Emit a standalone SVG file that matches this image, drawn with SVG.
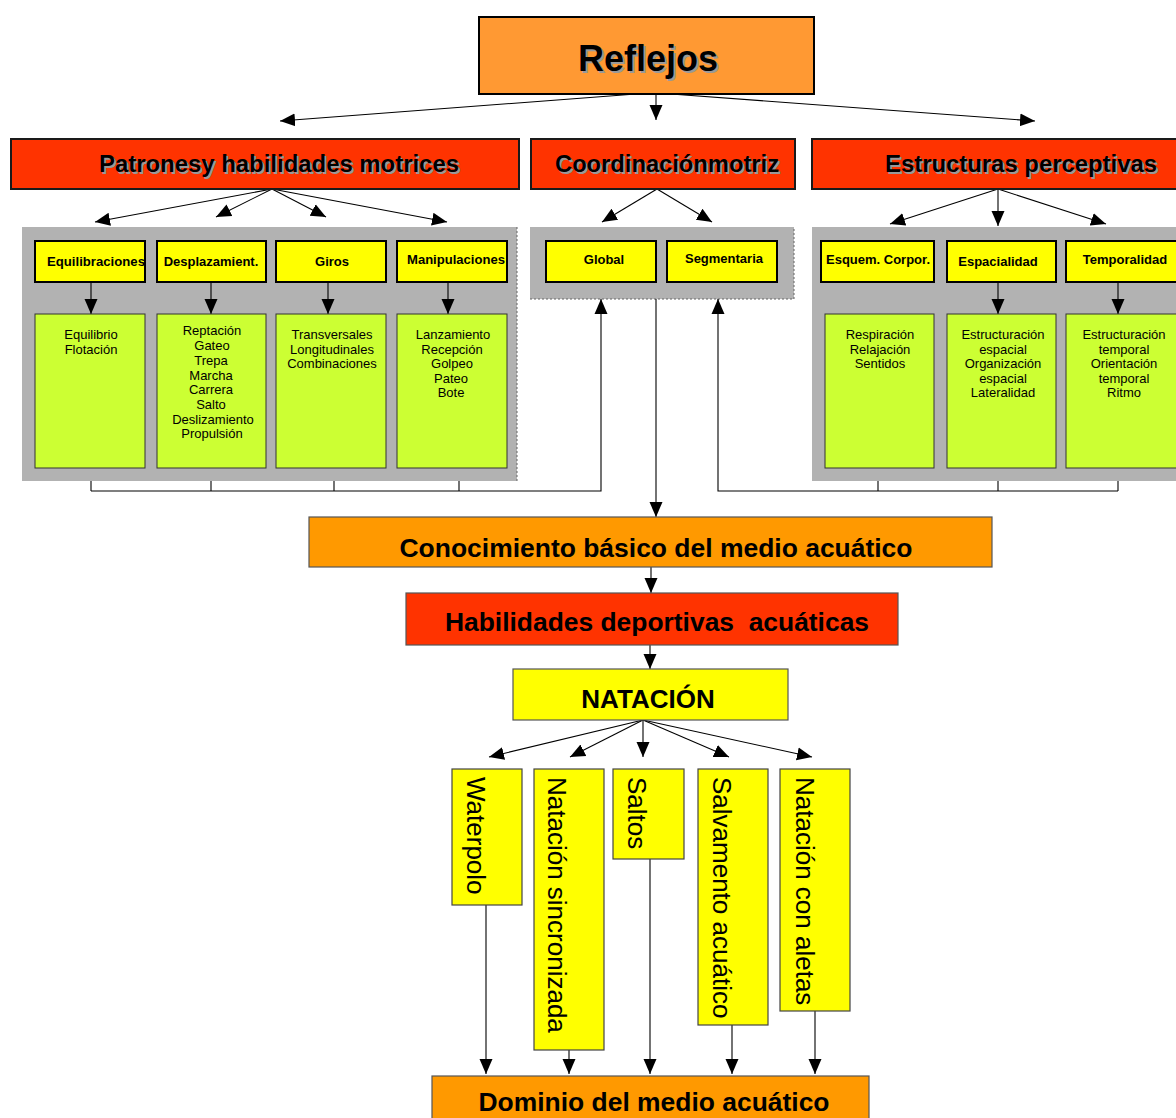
<svg xmlns="http://www.w3.org/2000/svg" width="1176" height="1118" viewBox="0 0 1176 1118">
<style>
text{font-family:"Liberation Sans",Arial,sans-serif;fill:#000}
.big{font-weight:bold;font-size:36px;text-anchor:middle}
.h2{font-weight:bold;font-size:23px;text-anchor:middle}
.sh{fill:#999999}
.hd{font-weight:bold;font-size:13px;text-anchor:middle}
.gt{font-size:13px;text-anchor:middle}
.mid{font-weight:bold;font-size:26px;text-anchor:middle}
.vt{font-size:26px}
.red{fill:#FF3300;stroke:#1a1a1a;stroke-width:2}
.panel{fill:#B2B2B2}
.yel{fill:#FFFF00;stroke:#000;stroke-width:2}
.grn{fill:#CCFF33;stroke:#333;stroke-width:1}
.org{fill:#FF9900;stroke:#555;stroke-width:1.2}
.vy{fill:#FFFF00;stroke:#444;stroke-width:1.2}
.c{stroke:#000;stroke-width:1.1;fill:none}
.ca{stroke:#000;stroke-width:1.1;fill:none;marker-end:url(#ah)}
.dot{stroke:#666;stroke-width:1;stroke-dasharray:2 2;fill:none}
</style>
<defs>
<marker id="ah" markerUnits="userSpaceOnUse" markerWidth="16" markerHeight="16" viewBox="0 0 16 16" refX="15" refY="8" orient="auto">
<path d="M0,1.5 L15,8 L0,14.5 z" fill="#000"/>
</marker>
</defs>

<!-- panels -->
<g id="panel-left">
<rect class="panel" x="22" y="227" width="495" height="254"/>
<line class="dot" x1="517" y1="227" x2="517" y2="481"/>
</g>
<g id="panel-mid">
<rect class="panel" x="530" y="227" width="264" height="72"/>
<path class="dot" d="M530,299 H794 V227"/>
</g>
<g id="panel-right">
<rect class="panel" x="812" y="227" width="370" height="254"/>
</g>

<!-- connectors -->
<g id="connectors">
<line class="ca" x1="636" y1="94" x2="280" y2="121"/>
<line class="ca" x1="656" y1="94" x2="656" y2="120"/>
<line class="ca" x1="671" y1="94" x2="1035" y2="121"/>

<line class="ca" x1="272" y1="189" x2="95" y2="222"/>
<line class="ca" x1="272" y1="189" x2="216" y2="217"/>
<line class="ca" x1="272" y1="189" x2="326" y2="217"/>
<line class="ca" x1="272" y1="189" x2="447" y2="222"/>

<line class="ca" x1="657" y1="189" x2="602" y2="222"/>
<line class="ca" x1="657" y1="189" x2="712" y2="222"/>

<line class="ca" x1="998" y1="189" x2="890" y2="224"/>
<line class="ca" x1="998" y1="189" x2="998" y2="226"/>
<line class="ca" x1="998" y1="189" x2="1106" y2="224"/>

<line class="ca" x1="91" y1="282" x2="91" y2="314"/>
<line class="ca" x1="211" y1="282" x2="211" y2="314"/>
<line class="ca" x1="328" y1="282" x2="328" y2="314"/>
<line class="ca" x1="448" y1="282" x2="448" y2="314"/>
<line class="ca" x1="998" y1="282" x2="998" y2="314"/>
<line class="ca" x1="1118" y1="282" x2="1118" y2="314"/>

<path class="c" d="M91,481 V491 M211,481 V491 M334,481 V491 M459,481 V491"/>
<path class="ca" d="M91,491 H601 V299"/>
<path class="c" d="M878,481 V491 M998,481 V491 M1118,481 V491"/>
<path class="ca" d="M1118,491 H718 V299"/>
<line class="ca" x1="656" y1="299" x2="656" y2="517"/>

<line class="ca" x1="651" y1="567" x2="651" y2="593"/>
<line class="ca" x1="650" y1="645" x2="650" y2="669"/>

<line class="ca" x1="643" y1="720" x2="489" y2="757"/>
<line class="ca" x1="643" y1="720" x2="570" y2="757"/>
<line class="ca" x1="643" y1="720" x2="643" y2="757"/>
<line class="ca" x1="643" y1="720" x2="729" y2="757"/>
<line class="ca" x1="643" y1="720" x2="812" y2="757"/>

<line class="ca" x1="486" y1="905" x2="486" y2="1074"/>
<line class="ca" x1="569" y1="1050" x2="569" y2="1074"/>
<line class="ca" x1="650" y1="859" x2="650" y2="1074"/>
<line class="ca" x1="732" y1="1025" x2="732" y2="1074"/>
<line class="ca" x1="815" y1="1011" x2="815" y2="1074"/>
</g>

<g id="reflejos">
<rect x="479" y="17" width="335" height="77" fill="#FF9933" stroke="#000" stroke-width="2"/>
<text class="big sh" x="650" y="73">Reflejos</text>
<text class="big" x="648" y="71">Reflejos</text>
</g>

<g id="patrones">
<rect class="red" x="11" y="139" width="508" height="50"/>
<text class="h2 sh" x="281" y="174" textLength="360" lengthAdjust="spacingAndGlyphs">Patronesy habilidades motrices</text>
<text class="h2" x="279" y="172" textLength="360" lengthAdjust="spacingAndGlyphs">Patronesy habilidades motrices</text>
</g>
<g id="coordinacion">
<rect class="red" x="531" y="139" width="264" height="50"/>
<text class="h2 sh" x="669" y="174" textLength="224" lengthAdjust="spacingAndGlyphs">Coordinaciónmotriz</text>
<text class="h2" x="667" y="172" textLength="224" lengthAdjust="spacingAndGlyphs">Coordinaciónmotriz</text>
</g>
<g id="estructuras">
<rect class="red" x="812" y="139" width="370" height="50"/>
<text class="h2 sh" x="1023" y="174" textLength="272" lengthAdjust="spacingAndGlyphs">Estructuras perceptivas</text>
<text class="h2" x="1021" y="172" textLength="272" lengthAdjust="spacingAndGlyphs">Estructuras perceptivas</text>
</g>

<g id="equilibraciones">
<rect class="yel" x="35" y="241" width="110" height="41"/>
<text class="hd" x="96" y="266" textLength="98" lengthAdjust="spacingAndGlyphs">Equilibraciones</text>
</g>
<g id="desplazamiento">
<rect class="yel" x="157" y="241" width="109" height="41"/>
<text class="hd" x="211" y="266">Desplazamient.</text>
</g>
<g id="giros">
<rect class="yel" x="276" y="241" width="110" height="41"/>
<text class="hd" x="332" y="266">Giros</text>
</g>
<g id="manipulaciones">
<rect class="yel" x="397" y="241" width="110" height="41"/>
<text class="hd" x="456" y="264" textLength="98" lengthAdjust="spacingAndGlyphs">Manipulaciones</text>
</g>
<g id="global">
<rect class="yel" x="546" y="241" width="110" height="41"/>
<text class="hd" x="604" y="264">Global</text>
</g>
<g id="segmentaria">
<rect class="yel" x="667" y="241" width="110" height="41"/>
<text class="hd" x="724" y="263">Segmentaria</text>
</g>
<g id="esquema">
<rect class="yel" x="821" y="241" width="113" height="41"/>
<text class="hd" x="878" y="264" textLength="104" lengthAdjust="spacingAndGlyphs">Esquem. Corpor.</text>
</g>
<g id="espacialidad">
<rect class="yel" x="947" y="241" width="109" height="41"/>
<text class="hd" x="998" y="266">Espacialidad</text>
</g>
<g id="temporalidad">
<rect class="yel" x="1066" y="241" width="115" height="41"/>
<text class="hd" x="1125" y="264">Temporalidad</text>
</g>

<g id="g-equilibrio">
<rect class="grn" x="35" y="314" width="110" height="154"/>
<text class="gt" x="91" y="339">Equilibrio</text>
<text class="gt" x="91" y="354">Flotación</text>
</g>
<g id="g-desplaz">
<rect class="grn" x="157" y="314" width="109" height="154"/>
<text class="gt" x="212" y="335">Reptación</text>
<text class="gt" x="212" y="350">Gateo</text>
<text class="gt" x="211" y="365">Trepa</text>
<text class="gt" x="211" y="380">Marcha</text>
<text class="gt" x="211" y="394">Carrera</text>
<text class="gt" x="211" y="409">Salto</text>
<text class="gt" x="213" y="424">Deslizamiento</text>
<text class="gt" x="212" y="438">Propulsión</text>
</g>
<g id="g-giros">
<rect class="grn" x="276" y="314" width="110" height="154"/>
<text class="gt" x="332" y="339">Transversales</text>
<text class="gt" x="332" y="354">Longitudinales</text>
<text class="gt" x="332" y="368">Combinaciones</text>
</g>
<g id="g-manip">
<rect class="grn" x="397" y="314" width="110" height="154"/>
<text class="gt" x="453" y="339">Lanzamiento</text>
<text class="gt" x="452" y="354">Recepción</text>
<text class="gt" x="452" y="368">Golpeo</text>
<text class="gt" x="451" y="383">Pateo</text>
<text class="gt" x="451" y="397">Bote</text>
</g>
<g id="g-esquema">
<rect class="grn" x="825" y="314" width="109" height="154"/>
<text class="gt" x="880" y="339">Respiración</text>
<text class="gt" x="880" y="354">Relajación</text>
<text class="gt" x="880" y="368">Sentidos</text>
</g>
<g id="g-espacial">
<rect class="grn" x="947" y="314" width="109" height="154"/>
<text class="gt" x="1003" y="339">Estructuración</text>
<text class="gt" x="1003" y="354">espacial</text>
<text class="gt" x="1003" y="368">Organización</text>
<text class="gt" x="1003" y="383">espacial</text>
<text class="gt" x="1003" y="397">Lateralidad</text>
</g>
<g id="g-temporal">
<rect class="grn" x="1066" y="314" width="115" height="154"/>
<text class="gt" x="1124" y="339">Estructuración</text>
<text class="gt" x="1124" y="354">temporal</text>
<text class="gt" x="1124" y="368">Orientación</text>
<text class="gt" x="1124" y="383">temporal</text>
<text class="gt" x="1124" y="397">Ritmo</text>
</g>

<g id="conocimiento">
<rect class="org" x="309" y="517" width="683" height="50"/>
<text class="mid" x="656" y="557" textLength="513" lengthAdjust="spacingAndGlyphs">Conocimiento básico del medio acuático</text>
</g>
<g id="habilidades">
<rect x="406" y="593" width="492" height="52" fill="#FF3300" stroke="#555" stroke-width="1.2"/>
<text class="mid" x="657" y="631" textLength="424" lengthAdjust="spacingAndGlyphs" xml:space="preserve">Habilidades deportivas  acuáticas</text>
</g>
<g id="natacion">
<rect x="513" y="669" width="275" height="51" fill="#FFFF00" stroke="#555" stroke-width="1.2"/>
<text class="mid" x="648" y="708">NATACIÓN</text>
</g>

<g id="waterpolo">
<rect class="vy" x="452" y="769" width="70" height="136"/>
<text class="vt" transform="translate(467,777) rotate(90)">Waterpolo</text>
</g>
<g id="sincronizada">
<rect class="vy" x="534" y="769" width="70" height="281"/>
<text class="vt" transform="translate(548,777) rotate(90)">Natación sincronizada</text>
</g>
<g id="saltos">
<rect class="vy" x="613" y="769" width="71" height="90"/>
<text class="vt" transform="translate(628,777) rotate(90)">Saltos</text>
</g>
<g id="salvamento">
<rect class="vy" x="698" y="769" width="70" height="256"/>
<text class="vt" transform="translate(713,777) rotate(90)">Salvamento acuático</text>
</g>
<g id="aletas">
<rect class="vy" x="780" y="769" width="70" height="242"/>
<text class="vt" transform="translate(796,777) rotate(90)">Natación con aletas</text>
</g>

<g id="dominio">
<rect class="org" x="432" y="1076" width="437" height="50"/>
<text class="mid" x="654" y="1111" textLength="351" lengthAdjust="spacingAndGlyphs">Dominio del medio acuático</text>
</g>
</svg>
